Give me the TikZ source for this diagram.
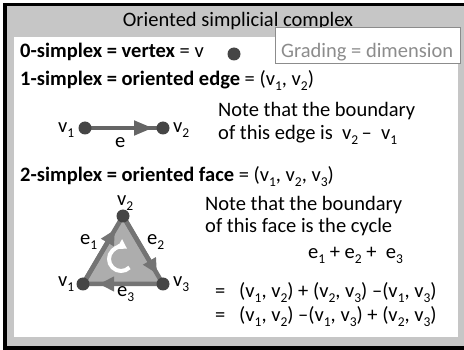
\documentclass[tikz,border=0pt]{standalone}
\usepackage{fontspec}
\setmainfont{Carlito}
\usetikzlibrary{arrows.meta,calc}
\definecolor{bggray}{HTML}{C6C6C6}
\definecolor{dotc}{HTML}{454545}
\definecolor{linec}{HTML}{656565}
\definecolor{trifill}{HTML}{ADADAD}
\definecolor{triedge}{HTML}{747474}
\definecolor{boxgray}{HTML}{8C8C8C}
\newcommand{\sbs}[1]{\raisebox{-0.22em}{\fontsize{13.5}{14}\selectfont #1}}
\newcommand{\bigfont}{\fontsize{20.5}{24}\selectfont}
\begin{document}
\begin{tikzpicture}[x=1pt,y=-1pt,
  txt/.style={anchor=base west, inner sep=0pt, font=\bigfont},
  lbl/.style={anchor=base west, inner sep=0pt, font=\bigfont},
  dotnode/.style={circle, fill=dotc, minimum size=13pt, inner sep=0pt},
  edgeline/.style={line width=4.5pt, draw=linec},
  triline/.style={line width=4.5pt, draw=triedge, line cap=round},
  tip/.style={-{Triangle[length=15pt,width=14pt]}}
]
\useasboundingbox (0,0) rectangle (464,350);
% frame
\fill[black] (3,3) rectangle (480,350);
\fill[bggray] (7,6.5) rectangle (480,346.5);
\fill[white] (14,37) rectangle (458,337);
% title
\node[anchor=base, inner sep=0pt, font=\bigfont] (title) at (238,27) {Oriented simplicial complex};
% grading box
\node[draw=boxgray, line width=1.2pt, fill=white, minimum width=185pt, minimum height=36pt, inner sep=0pt, anchor=north west] (grading) at (275,27) {};
\node[txt, text=boxgray] (gradingtxt) at (281,58) {Grading = dimension};
% row 0
\node[txt] (r0) at (20,58) {\textbf{0-simplex = vertex} = v};
\node[dotnode] (vdot) at (234,54) {};
% row 1
\node[txt] (r1) at (20,86) {\textbf{1-simplex = oriented edge} = (v\sbs{1}, v\sbs{2})};
\node[txt] (n1a) at (218,116.5) {Note that the boundary};
\node[txt] (n1b) at (218,139.5) {of this edge is\ \ v\sbs{2}\,–\ \ v\sbs{1}};
% edge diagram
\coordinate (a1) at (85,128);
\coordinate (a2) at (163,128);
\coordinate (atip) at (153,128);
\draw[edgeline] (a1) -- (a2);
\draw[edgeline, -{Triangle[length=19pt,width=14pt]}] (a1) -- (atip);
\node[dotnode] (a1dot) at (a1) {};
\node[dotnode] (a2dot) at (a2) {};
\node[lbl] (la1) at (58,133) {v\sbs{1}};
\node[lbl] (la2) at (173,133) {v\sbs{2}};
\node[lbl] (le) at (115,148) {e};
% row 2
\node[txt] (r2) at (20,182) {\textbf{2-simplex = oriented face} = (v\sbs{1}, v\sbs{2}, v\sbs{3})};
\node[txt] (n2a) at (205,210.5) {Note that the boundary};
\node[txt] (n2b) at (205,232.5) {of this face is the cycle};
\node[txt] (cyc) at (308,259) {e\sbs{1} + e\sbs{2} +\ \ e\sbs{3}};
\node[txt] (eq1s) at (215,298) {=};
\node[txt] (eq1) at (239,298) {(v\sbs{1}, v\sbs{2}) + (v\sbs{2}, v\sbs{3}) –(v\sbs{1}, v\sbs{3})};
\node[txt] (eq2s) at (215,322) {=};
\node[txt] (eq2) at (239,322) {(v\sbs{1}, v\sbs{2}) –(v\sbs{1}, v\sbs{3}) + (v\sbs{2}, v\sbs{3})};
% triangle
\coordinate (t1) at (83,284);
\coordinate (t2) at (123,216);
\coordinate (t3) at (163,284);
\fill[trifill] (t1) -- (t2) -- (t3) -- cycle;
\draw[triline] (t1) -- (t2) -- (t3) -- cycle;
\draw[triline, line cap=butt, tip] (t1) -- ($(t1)!0.8!(t2)$);
\draw[triline, line cap=butt, tip] (t2) -- ($(t2)!0.85!(t3)$);
\draw[triline, line cap=butt, tip] (t3) -- ($(t3)!0.8!(t1)$);
% circular arrow
\coordinate (cc) at (121,259);
\draw[white, line width=4pt, -{Triangle[length=9pt,width=11pt]}] ($(cc)+(45:12)$) arc[start angle=45, end angle=300, radius=12];
\node[dotnode] (t1dot) at (t1) {};
\node[dotnode] (t2dot) at (t2) {};
\node[dotnode] (t3dot) at (t3) {};
\node[lbl] (lt2) at (117,206) {v\sbs{2}};
\node[lbl] (lt1) at (58,287) {v\sbs{1}};
\node[lbl] (lt3) at (173,287) {v\sbs{3}};
\node[lbl] (le1) at (80,245) {e\sbs{1}};
\node[lbl] (le2) at (147,245) {e\sbs{2}};
\node[lbl] (le3) at (117,297) {e\sbs{3}};
\end{tikzpicture}
\end{document}
